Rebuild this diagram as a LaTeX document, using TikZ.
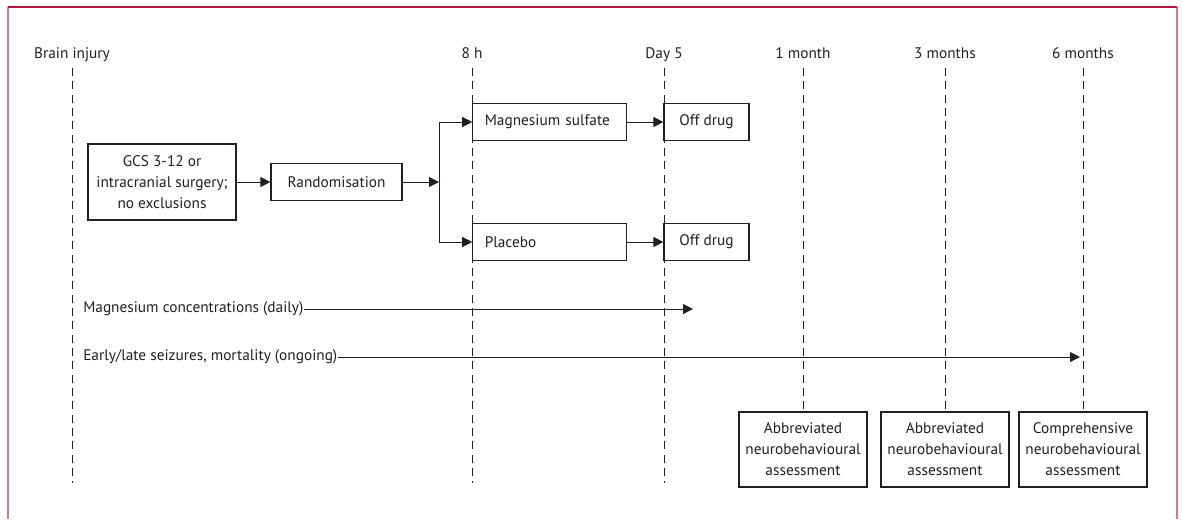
\documentclass[tikz,border=0pt]{standalone}
\usepackage{fontspec}
\setmainfont{PT Sans}
\usepackage{xcolor}
\usepackage{tikz}
\usetikzlibrary{arrows.meta, positioning}

\definecolor{ink}{HTML}{231F20}
\definecolor{frametop}{HTML}{B5173B}
\definecolor{frameside}{HTML}{DB7494}

\begin{document}
\begin{tikzpicture}[x=0.75pt, y=-0.75pt,
  every node/.style={font=\fontsize{11.5}{15.75}\selectfont, text=ink},
  box/.style={draw=ink, line width=0.9pt, fill=white, align=center, inner sep=0pt},
  armbox/.style={box, minimum height=28pt, text width=97pt, inner xsep=9pt, align=left},
  offbox/.style={box, minimum height=28pt, minimum width=63.75pt},
  assess/.style={box, minimum height=56.25pt, minimum width=96pt},
  tlabel/.style={anchor=base, inner sep=0pt},
  rowlabel/.style={anchor=west, inner sep=0pt},
  tline/.style={draw=ink, line width=0.75pt, dash pattern=on 6pt off 4pt},
  arr/.style={draw=ink, line width=0.75pt, -{Triangle[length=7.5pt, width=7.5pt]}}
]
\useasboundingbox (0,0) rectangle (1182,519);

% frame
\draw[frameside, line width=1.1pt] (8,519) -- (8,7);
\draw[frameside, line width=1.1pt] (1177,7) -- (1177,519);
\draw[frametop, line width=1.1pt] (8,7) -- (1177,7);

% time points
\node[tlabel] (tbrain) at (72,58) {Brain injury};
\node[tlabel] (t8h) at (472,58) {8 h};
\node[tlabel] (tday) at (664,58) {Day 5};
\node[tlabel] (t1m) at (803,58) {1 month};
\node[tlabel] (t3m) at (945,58) {3 months};
\node[tlabel] (t6m) at (1083,58) {6 months};

\coordinate (bbrain) at (72,483);
\coordinate (b8h) at (472,483);
\coordinate (bday) at (664,483);

% assessments
\node[assess] (a1m) at (803,449.5) {Abbreviated\\neurobehavioural\\assessment};
\node[assess] (a3m) at (945,449.5) {Abbreviated\\neurobehavioural\\assessment};
\node[assess] (a6m) at (1083,449.5) {Comprehensive\\neurobehavioural\\assessment};

\draw[tline] ([yshift=-7.5pt]tbrain.base) -- (bbrain);
\draw[tline] ([yshift=-7.5pt]t8h.base) -- (b8h);
\draw[tline] ([yshift=-7.5pt]tday.base) -- (bday);
\draw[tline] ([yshift=-7.5pt]t1m.base) -- (a1m.north);
\draw[tline] ([yshift=-7.5pt]t3m.base) -- (a3m.north);
\draw[tline] ([yshift=-7.5pt]t6m.base) -- (a6m.north);

% trial flow
\node[box, minimum width=111pt, minimum height=57pt] (gcs) at (162,182)
  {GCS 3-12 or\\intracranial surgery;\\no exclusions};
\node[box, minimum width=98.25pt, minimum height=27.75pt] (rand) at (336.5,182) {Randomisation};
\coordinate (split) at (439,182);
\node[armbox] (mgs) at (549.5,122) {\mbox{Magnesium sulfate}};
\node[armbox] (plc) at (549.5,242) {Placebo};
\node[offbox] (off1) at (706.5,122) {Off drug};
\node[offbox] (off2) at (706.5,242) {Off drug};

\draw[arr] (gcs) -- (rand);
\draw[arr] (rand) -- (split);
\draw[arr] (split) |- (mgs.west);
\draw[arr] (split) |- (plc.west);
\draw[arr] (mgs) -- (off1);
\draw[arr] (plc) -- (off2);

% measurements
\node[rowlabel] (mgconc) at (83,309) {Magnesium concentrations (daily)};
\coordinate (mgend) at (693,309);
\draw[arr] (mgconc) -- (mgend);

\node[rowlabel] (seiz) at (83,357) {Early/late seizures, mortality (ongoing)};
\coordinate (seizend) at (1080,357);
\draw[arr] (seiz) -- (seizend);
\end{tikzpicture}
\end{document}
